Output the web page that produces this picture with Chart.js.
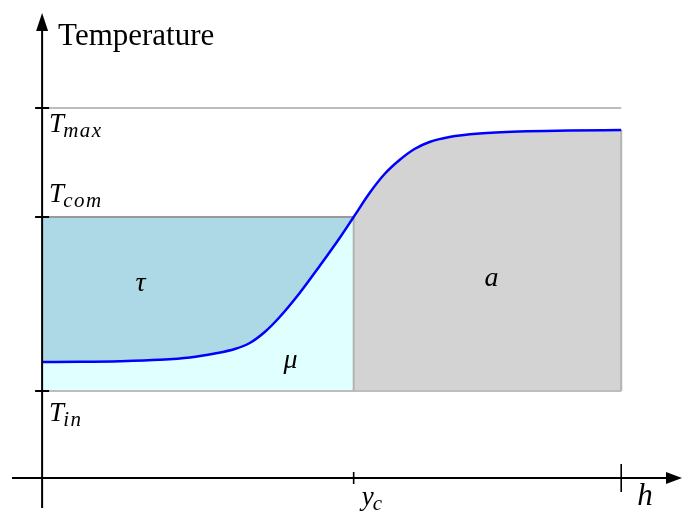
<!DOCTYPE html>
<html>
<head>
<meta charset="utf-8">
<script src="https://cdn.jsdelivr.net/npm/chart.js@4/dist/chart.umd.min.js"></script>
<style>
html,body{margin:0;padding:0;background:#fff;}
canvas{display:block;}
</style>
</head>
<body>
<canvas id="c" width="692" height="515"></canvas>
<script>
// ---- data (x in units of h, temperature in arbitrary units) ----
const X_MIN = -0.052, X_MAX = 1.105;
const T_MIN = -0.30, T_MAX_AXIS = 4.63;
const T_IN = 0.87;
const T_COM = 2.61;
const T_MAX = 3.70;
const Y_C = 0.538;
const H = 1.0;
const curveX = [0, 0.0655, 0.1345, 0.2034, 0.2552, 0.2983, 0.3328, 0.3586, 0.3845, 0.4103, 0.4448, 0.4793, 0.5138, 0.538, 0.5655, 0.5914, 0.6172, 0.6431, 0.6690, 0.7034, 0.7552, 0.8241, 0.9103, 1.0];
const curveT = [1.16, 1.162, 1.168, 1.182, 1.205, 1.245, 1.29, 1.35, 1.46, 1.61, 1.85, 2.12, 2.40, 2.61, 2.85, 3.04, 3.18, 3.29, 3.36, 3.41, 3.445, 3.465, 3.474, 3.48];
const yTickLabels = [
  {v: T_MAX, main: 'T', sub: 'max'},
  {v: T_COM, main: 'T', sub: 'com'},
  {v: T_IN,  main: 'T', sub: 'in'}
];
const xTickLabels = [
  {v: Y_C, main: 'y', sub: 'c'},
  {v: H, main: 'h', sub: ''}
];
const regionLabels = [
  {x: 0.170, t: 1.94, text: 'τ'},
  {x: 0.429, t: 1.17, text: 'μ'},
  {x: 0.776, t: 1.99, text: 'a'}
];

const pts = (xs, ts) => xs.map((x, i) => ({x: x, y: ts[i]}));
const leftIdx = curveX.filter(x => x <= Y_C).length;
const curveLeft = pts(curveX.slice(0, leftIdx), curveT.slice(0, leftIdx));
const curveRight = pts(curveX.slice(leftIdx - 1), curveT.slice(leftIdx - 1));
const curveAll = pts(curveX, curveT);

const base = {pointRadius: 0, pointHoverRadius: 0, showLine: true};

const axesPlugin = {
  id: 'axesPlugin',
  afterDatasetsDraw(chart) {
    const ctx = chart.ctx;
    const xs = chart.scales.x, ys = chart.scales.y;
    const ca = chart.chartArea;
    const x0 = xs.getPixelForValue(0), y0 = ys.getPixelForValue(0);
    ctx.save();
    ctx.strokeStyle = '#000'; ctx.fillStyle = '#000'; ctx.lineWidth = 2;
    // x axis
    ctx.beginPath(); ctx.moveTo(ca.left, y0); ctx.lineTo(ca.right - 12, y0); ctx.stroke();
    ctx.beginPath(); ctx.moveTo(ca.right, y0); ctx.lineTo(ca.right - 16, y0 - 6); ctx.lineTo(ca.right - 16, y0 + 6); ctx.closePath(); ctx.fill();
    // y axis
    ctx.beginPath(); ctx.moveTo(x0, ca.bottom); ctx.lineTo(x0, ca.top + 12); ctx.stroke();
    ctx.beginPath(); ctx.moveTo(x0, ca.top - 2); ctx.lineTo(x0 - 6, ca.top + 16); ctx.lineTo(x0 + 6, ca.top + 16); ctx.closePath(); ctx.fill();
    // y ticks
    yTickLabels.forEach(t => {
      const py = ys.getPixelForValue(t.v);
      ctx.beginPath(); ctx.moveTo(x0 - 7, py); ctx.lineTo(x0 + 7, py); ctx.stroke();
    });
    // x ticks
    ctx.lineWidth = 1.6;
    let px = xs.getPixelForValue(Y_C);
    ctx.beginPath(); ctx.moveTo(px, y0 - 6); ctx.lineTo(px, y0 + 6); ctx.stroke();
    px = xs.getPixelForValue(H);
    ctx.beginPath(); ctx.moveTo(px, y0 - 14); ctx.lineTo(px, y0 + 14); ctx.stroke();

    // texts
    ctx.textBaseline = 'alphabetic';
    ctx.textAlign = 'left';
    ctx.font = '31px "Liberation Serif", serif';
    ctx.fillText('Temperature', x0 + 16, ca.top + 30);

    const mainFont = 'italic 27px "Liberation Serif", serif';
    const subFont = 'italic 21px "Liberation Serif", serif';
    const drawMath = (main, sub, x, y) => {
      ctx.font = mainFont;
      ctx.letterSpacing = '0px';
      ctx.fillText(main, x, y);
      const w = ctx.measureText(main).width;
      if (sub) {
        ctx.font = subFont;
        ctx.letterSpacing = '1.5px';
        ctx.fillText(sub, x + w - 1, y + 5);
        ctx.letterSpacing = '0px';
      }
    };
    const yOff = {max: 24, com: -15, in: 30};
    yTickLabels.forEach(t => {
      const py = ys.getPixelForValue(t.v);
      drawMath(t.main, t.sub, x0 + 7, py + yOff[t.sub]);
    });
    xTickLabels.forEach(t => {
      const p = xs.getPixelForValue(t.v);
      if (t.sub) {
        drawMath(t.main, t.sub, p + 8, y0 + 27);
      } else {
        ctx.font = 'italic 31px "Liberation Serif", serif';
        ctx.fillText(t.main, p + 16, y0 + 27);
      }
    });
    ctx.font = 'italic 28px "Liberation Serif", serif';
    ctx.textAlign = 'center'; ctx.textBaseline = 'middle';
    regionLabels.forEach(r => {
      ctx.fillText(r.text, xs.getPixelForValue(r.x), ys.getPixelForValue(r.t));
    });
    ctx.restore();
  }
};

new Chart(document.getElementById('c'), {
  type: 'scatter',
  data: {
    datasets: [
      Object.assign({}, base, {data: curveLeft, cubicInterpolationMode: 'monotone', borderWidth: 0, borderColor: 'rgba(0,0,0,0)', backgroundColor: '#e0ffff', fill: {value: T_IN}, order: 5}),
      Object.assign({}, base, {data: [{x: 0, y: T_COM}, {x: Y_C, y: T_COM}], borderWidth: 2, borderColor: '#9a9a9a', backgroundColor: '#add8e6', fill: 0, order: 4}),
      Object.assign({}, base, {data: curveRight, cubicInterpolationMode: 'monotone', borderWidth: 0, borderColor: 'rgba(0,0,0,0)', backgroundColor: '#d3d3d3', fill: {value: T_IN}, order: 5}),
      Object.assign({}, base, {data: [{x: 0, y: T_MAX}, {x: H, y: T_MAX}], borderWidth: 2, borderColor: '#bdbdbd', fill: false, order: 2}),
      Object.assign({}, base, {data: [{x: 0, y: T_IN}, {x: H, y: T_IN}], borderWidth: 2, borderColor: '#bdbdbd', fill: false, order: 2}),
      Object.assign({}, base, {data: [{x: Y_C, y: T_IN}, {x: Y_C, y: T_COM}], borderWidth: 2, borderColor: '#b4b4b4', fill: false, order: 1}),
      Object.assign({}, base, {data: [{x: H, y: T_IN}, {x: H, y: curveT[curveT.length - 1]}], borderWidth: 2, borderColor: '#b4b4b4', fill: false, order: 1}),
      Object.assign({}, base, {data: curveAll, cubicInterpolationMode: 'monotone', borderWidth: 2.5, borderColor: '#0000ff', fill: false, order: 0})
    ]
  },
  options: {
    responsive: false,
    animation: false,
    layout: {padding: {left: 12, right: 10, top: 15, bottom: 7}},
    plugins: {legend: {display: false}, tooltip: {enabled: false}},
    scales: {
      x: {type: 'linear', min: X_MIN, max: X_MAX, display: false},
      y: {type: 'linear', min: T_MIN, max: T_MAX_AXIS, display: false}
    }
  },
  plugins: [axesPlugin]
});
</script>
</body>
</html>
